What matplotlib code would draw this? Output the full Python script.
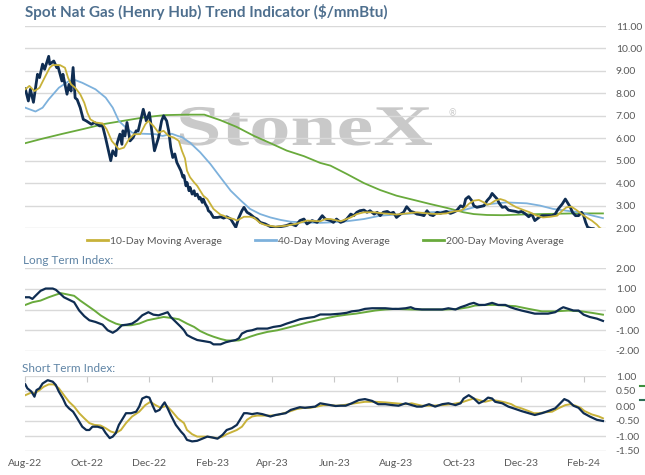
import pandas as pd
import matplotlib
matplotlib.use('Agg')
import matplotlib.pyplot as plt
import matplotlib.dates as mdates
from matplotlib.ticker import FixedLocator, FormatStrFormatter
from matplotlib.lines import Line2D
from matplotlib.textpath import TextPath
from matplotlib.patches import PathPatch
from matplotlib.transforms import Affine2D
from matplotlib.font_manager import FontProperties

plt.rcParams['font.family'] = ['Lato', 'DejaVu Sans']
plt.rcParams['axes.unicode_minus'] = False

start = pd.Timestamp('2022-08-01')

# ~~~~~ values (x = days since 2022-08-01) ~~~~~
spot_day = [0, 3, 5, 8, 12, 14, 17, 19, 23, 24, 28, 31, 32, 36, 37, 41, 43, 45, 47, 49,
            51, 54, 57, 60, 65, 68, 73, 76, 79, 84, 86, 89, 90, 93, 95, 96, 98, 100, 103, 106,
            109, 111, 116, 119, 122, 124, 127, 131, 134, 136, 139, 141, 143, 145, 147, 149, 153, 155, 156, 158,
            159, 161, 162, 164, 166, 167, 169, 171, 172, 174, 175, 177, 179, 180, 182, 185, 189, 192, 195, 198,
            202, 205, 207, 210, 213, 215, 218, 221, 225, 228, 231, 236, 241, 246, 251, 256, 261, 266, 270, 274,
            277, 282, 287, 292, 295, 300, 303, 306, 310, 313, 316, 320, 323, 326, 329, 333, 336, 339, 343, 346,
            349, 352, 356, 359, 362, 365, 369, 372, 375, 379, 382, 385, 389, 392, 395, 398, 401, 405, 408, 411,
            414, 418, 421, 424, 428, 431, 433, 436, 439, 441, 444, 447, 451, 454, 457, 459, 461, 464, 466, 469,
            472, 475, 478, 482, 485, 488, 492, 495, 498, 501, 505, 508, 513, 518, 521, 524, 528, 531, 533, 536,
            538, 541, 544, 547, 549, 551, 553, 556, 559, 563, 568]
spot = [8.2, 7.66, 8.18, 7.6, 8.85, 8.7, 9.3, 9.07, 9.65, 9.3, 9.44, 9.14, 9.22, 8.55, 8.85, 7.96, 8.4, 8.1, 9.15, 7.8,
        7.72, 7.36, 6.84, 6.77, 6.62, 6.7, 6.55, 6.55, 6.0, 5.0, 5.44, 5.22, 5.73, 6.18, 5.73, 6.33, 6.1, 6.7, 5.88, 6.03,
        6.33, 6.33, 7.29, 6.77, 7.14, 6.47, 5.44, 6.03, 6.77, 7.0, 6.77, 6.33, 5.59, 5.14, 5.3, 4.92, 4.55, 4.26, 4.34, 3.88,
        4.03, 3.66, 3.81, 3.51, 3.66, 3.44, 3.51, 3.29, 3.36, 3.14, 3.29, 3.07, 2.92, 2.77, 2.7, 2.47, 2.47, 2.5, 2.44, 2.5,
        2.4, 2.18, 2.03, 2.47, 2.77, 2.92, 2.7, 2.62, 2.47, 2.4, 2.25, 2.18, 2.06, 2.03, 2.06, 2.1, 2.18, 2.1, 2.33, 2.4,
        2.18, 2.33, 2.25, 2.55, 2.4, 2.33, 2.25, 2.4, 2.25, 2.3, 2.4, 2.62, 2.55, 2.7, 2.77, 2.8, 2.7, 2.77, 2.62, 2.7,
        2.55, 2.7, 2.74, 2.65, 2.7, 2.47, 2.62, 2.7, 2.95, 2.74, 2.7, 2.62, 2.59, 2.55, 2.77, 2.59, 2.55, 2.7, 2.65, 2.7,
        2.74, 2.65, 2.7, 2.77, 2.99, 2.92, 3.29, 3.4, 3.22, 2.99, 2.92, 2.95, 2.99, 3.22, 3.37, 3.54, 3.44, 3.29, 3.1, 2.92,
        2.95, 2.8, 2.77, 2.74, 2.7, 2.74, 2.62, 2.5, 2.62, 2.33, 2.47, 2.55, 2.55, 2.55, 2.62, 2.85, 3.07, 3.29, 3.14, 2.92,
        2.7, 2.55, 2.55, 2.7, 2.55, 2.25, 2.03, 1.98, 1.97, 1.7, 1.6]

ma10_day = [0, 4, 9, 14, 19, 24, 27, 34, 39, 42, 45, 49, 54, 58, 61, 64, 69, 76, 80, 85,
            92, 97, 102, 107, 113, 118, 121, 126, 131, 136, 141, 146, 151, 154, 157, 159, 162, 166, 169, 172,
            175, 179, 182, 185, 189, 192, 195, 198, 205, 208, 215, 221, 225, 231, 236, 246, 256, 266, 277, 290,
            295, 300, 310, 320, 326, 333, 343, 352, 365, 375, 385, 395, 405, 414, 421, 428, 431, 436, 441, 446,
            451, 454, 457, 462, 467, 472, 477, 483, 490, 496, 503, 509, 516, 523, 528, 532, 537, 542, 547, 552,
            557, 562, 565, 568]
ma10 = [8.18, 8.33, 8.1, 8.25, 8.7, 9.14, 9.26, 9.26, 9.14, 8.7, 8.4, 8.25, 7.96, 7.58, 7.14, 6.84, 6.7, 6.66, 6.4, 5.88,
        5.51, 5.58, 5.96, 6.18, 6.18, 6.62, 6.77, 6.55, 6.25, 6.33, 6.1, 6.03, 5.88, 5.44, 5.1, 4.55, 4.26, 4.03, 3.88, 3.66,
        3.44, 3.29, 3.07, 2.85, 2.7, 2.59, 2.55, 2.47, 2.4, 2.33, 2.5, 2.5, 2.45, 2.22, 2.13, 2.06, 2.1, 2.18, 2.33, 2.3,
        2.4, 2.4, 2.3, 2.47, 2.62, 2.7, 2.7, 2.65, 2.6, 2.65, 2.7, 2.65, 2.62, 2.65, 2.74, 2.77, 2.85, 3.07, 3.22, 3.25,
        3.14, 3.04, 3.07, 3.22, 3.29, 3.22, 3.07, 2.92, 2.8, 2.7, 2.55, 2.47, 2.5, 2.55, 2.77, 2.92, 2.95, 2.8, 2.62, 2.47,
        2.33, 2.15, 2.0, 1.92]

ma40_day = [0, 10, 17, 23, 33, 43, 49, 56, 69, 79, 86, 92, 99, 105, 115, 128, 135, 144, 150, 154,
            162, 172, 182, 192, 202, 212, 221, 231, 241, 251, 261, 274, 290, 300, 316, 333, 349, 365, 382, 398,
            415, 431, 441, 457, 473, 493, 506, 519, 532, 545, 558, 568]
ma40 = [7.36, 7.19, 7.36, 7.73, 8.25, 8.55, 8.59, 8.47, 8.18, 7.81, 7.36, 6.77, 6.47, 6.25, 6.2, 6.18, 6.1, 6.2, 6.1, 6.05,
        5.8, 5.37, 4.85, 4.25, 3.66, 3.22, 2.85, 2.62, 2.47, 2.36, 2.28, 2.25, 2.23, 2.25, 2.3, 2.4, 2.55, 2.6, 2.65, 2.7,
        2.74, 2.8, 2.92, 3.07, 3.14, 3.1, 3.0, 2.85, 2.77, 2.7, 2.55, 2.44]

ma200_day = [0, 16, 36, 57, 77, 97, 117, 137, 158, 176, 192, 208, 225, 241, 257, 274, 290, 300, 316, 333,
             349, 365, 382, 398, 415, 431, 441, 454, 470, 487, 506, 539, 568]
ma200 = [5.78, 5.97, 6.19, 6.41, 6.63, 6.78, 6.93, 7.03, 7.05, 7.05, 6.8, 6.5, 6.1, 5.78, 5.45, 5.2, 4.9, 4.78, 4.41, 4.0,
         3.69, 3.44, 3.25, 3.07, 2.89, 2.7, 2.62, 2.58, 2.57, 2.6, 2.62, 2.65, 2.65]

lt_day = [0, 4, 7, 10, 15, 20, 27, 30, 33, 38, 43, 48, 53, 58, 63, 69, 76, 81, 86, 90,
          95, 100, 105, 110, 115, 121, 126, 131, 136, 140, 143, 148, 153, 156, 159, 164, 169, 175, 182, 185,
          192, 197, 202, 207, 210, 213, 218, 223, 228, 238, 244, 251, 257, 264, 270, 277, 284, 290, 300, 310,
          316, 321, 328, 334, 341, 354, 361, 367, 374, 379, 383, 390, 400, 410, 416, 423, 428, 433, 437, 441,
          446, 452, 459, 465, 472, 477, 482, 488, 495, 501, 508, 514, 521, 526, 529, 534, 539, 544, 549, 555,
          562, 568]
lt_index = [0.59, 0.59, 0.51, 0.66, 0.9, 1.01, 1.01, 0.95, 0.82, 0.59, 0.47, 0.35, -0.05, -0.32, -0.52, -0.6, -0.73, -1.0, -1.12, -1.0,
            -0.76, -0.73, -0.68, -0.52, -0.28, -0.13, -0.25, -0.28, -0.2, -0.13, -0.36, -0.6, -0.84, -1.0, -1.23, -1.36, -1.47, -1.52, -1.58, -1.68,
            -1.68, -1.58, -1.52, -1.47, -1.39, -1.16, -1.04, -1.0, -0.92, -0.92, -0.84, -0.79, -0.68, -0.57, -0.47, -0.41, -0.36, -0.24, -0.24, -0.2,
            -0.16, -0.09, -0.05, 0.03, 0.06, 0.06, 0.03, 0.03, 0.06, 0.11, 0.03, 0.0, 0.0, 0.0, 0.06, 0.0, 0.11, 0.19, 0.27, 0.32,
            0.22, 0.22, 0.32, 0.22, 0.22, 0.11, 0.03, -0.05, -0.13, -0.2, -0.2, -0.2, -0.13, 0.03, 0.11, 0.03, -0.05, -0.05, -0.25, -0.36,
            -0.44, -0.55]

lt_avg_day = [0, 7, 15, 23, 30, 35, 40, 48, 54, 61, 68, 74, 82, 89, 95, 104, 112, 120, 128, 136,
              144, 151, 159, 166, 172, 179, 185, 192, 198, 205, 210, 215, 221, 228, 238, 248, 257, 267, 277, 287,
              297, 306, 316, 325, 334, 344, 354, 364, 380, 397, 413, 426, 436, 442, 452, 462, 472, 482, 495, 508,
              521, 534, 547, 557, 568]
lt_avg = [0.22, 0.35, 0.43, 0.59, 0.71, 0.79, 0.74, 0.66, 0.43, 0.19, -0.05, -0.28, -0.52, -0.68, -0.76, -0.76, -0.68, -0.52, -0.44, -0.36,
          -0.41, -0.47, -0.68, -0.84, -1.04, -1.2, -1.31, -1.42, -1.49, -1.5, -1.49, -1.42, -1.31, -1.2, -1.08, -1.0, -0.89, -0.76, -0.63, -0.52,
          -0.41, -0.32, -0.25, -0.2, -0.13, -0.05, 0.0, 0.03, 0.0, 0.0, 0.0, 0.03, 0.11, 0.19, 0.22, 0.22, 0.19, 0.16, 0.03, -0.09,
          -0.09, -0.05, -0.09, -0.16, -0.25]

st_day = [0, 2, 6, 9, 11, 14, 17, 22, 27, 30, 33, 37, 40, 43, 47, 50, 53, 56, 60, 63,
          66, 71, 76, 79, 83, 86, 89, 92, 96, 99, 104, 109, 112, 115, 119, 122, 125, 128, 132, 135,
          137, 140, 143, 148, 153, 156, 159, 164, 169, 174, 179, 184, 189, 194, 198, 203, 208, 212, 215, 218,
          223, 228, 233, 238, 241, 246, 251, 256, 261, 266, 270, 275, 280, 285, 290, 295, 300, 305, 310, 315,
          321, 328, 334, 341, 347, 354, 361, 367, 374, 380, 385, 390, 397, 403, 410, 416, 423, 428, 431, 436,
          441, 446, 451, 455, 459, 462, 469, 475, 482, 488, 495, 501, 508, 514, 521, 526, 530, 534, 539, 544,
          549, 555, 562, 568]
st_index = [0.72, 0.59, 0.48, 0.31, 0.53, 0.59, 0.75, 0.86, 0.81, 0.7, 0.48, 0.25, 0.03, -0.08, -0.19, -0.35, -0.52, -0.69, -0.8, -0.8,
            -0.69, -0.69, -0.74, -0.9, -1.07, -1.02, -0.9, -0.63, -0.41, -0.24, -0.24, -0.19, -0.02, 0.25, 0.31, 0.28, 0.03, -0.19, -0.13, 0.03,
            0.12, -0.08, -0.3, -0.63, -0.85, -0.96, -1.13, -1.18, -1.16, -1.09, -1.02, -1.05, -1.09, -0.96, -0.8, -0.74, -0.63, -0.41, -0.24, -0.24,
            -0.27, -0.24, -0.27, -0.32, -0.35, -0.3, -0.27, -0.24, -0.13, -0.08, -0.04, -0.06, -0.04, -0.02, 0.09, 0.06, 0.03, 0.0, 0.01, 0.01,
            0.09, 0.2, 0.23, 0.17, 0.06, 0.06, 0.03, 0.01, 0.09, 0.03, -0.02, -0.02, 0.06, -0.02, 0.06, 0.09, 0.03, 0.09, 0.25, 0.36,
            0.25, 0.09, 0.17, 0.28, 0.25, 0.14, 0.09, -0.02, -0.1, -0.17, -0.24, -0.3, -0.24, -0.17, -0.08, 0.09, 0.23, 0.17, 0.01, -0.06,
            -0.24, -0.35, -0.46, -0.5]

st_avg_day = [0, 6, 9, 14, 18, 23, 28, 33, 38, 43, 48, 53, 58, 63, 68, 74, 79, 84, 89, 94,
              99, 105, 112, 118, 123, 128, 133, 139, 144, 150, 156, 159, 164, 169, 179, 184, 189, 194, 198, 203,
              208, 213, 218, 223, 228, 241, 248, 254, 261, 267, 274, 280, 287, 293, 300, 306, 313, 324, 334, 344,
              354, 364, 374, 380, 390, 400, 410, 419, 429, 436, 441, 446, 452, 459, 465, 472, 478, 482, 488, 495,
              500, 505, 511, 518, 524, 531, 536, 541, 546, 550, 557, 564, 568]
st_avg = [0.36, 0.45, 0.42, 0.53, 0.64, 0.72, 0.72, 0.59, 0.36, 0.14, -0.02, -0.24, -0.41, -0.57, -0.63, -0.65, -0.74, -0.85, -0.9, -0.8,
          -0.57, -0.35, -0.19, 0.03, 0.14, 0.03, -0.06, 0.01, -0.17, -0.41, -0.57, -0.8, -0.94, -1.02, -1.02, -1.05, -1.07, -1.02, -0.94, -0.87,
          -0.8, -0.69, -0.46, -0.35, -0.32, -0.32, -0.3, -0.24, -0.17, -0.1, -0.06, -0.06, -0.02, 0.03, 0.03, 0.01, 0.03, 0.09, 0.14, 0.14,
          0.12, 0.09, 0.06, 0.09, 0.01, 0.01, 0.03, 0.06, 0.12, 0.2, 0.25, 0.2, 0.14, 0.2, 0.17, 0.12, 0.06, -0.02, -0.08, -0.17,
          -0.24, -0.24, -0.21, -0.19, -0.08, 0.03, 0.06, 0.01, -0.06, -0.17, -0.28, -0.35, -0.41]

legend_labels = ['10-Day Moving Average', '40-Day Moving Average', '200-Day Moving Average']
title = 'Spot Nat Gas (Henry Hub) Trend Indicator ($/mmBtu)'

navy = '#0f2d52'
gold = '#c8b23a'
blue = '#7db1dc'
green = '#69aa3c'
grid_c = '#d9d9d9'
text_c = '#595959'
mark_c = '#c9c9c9'


def dates(days):
    return start + pd.to_timedelta(days, unit='D')


fig = plt.figure(figsize=(6.45, 4.75), dpi=100)
L, W = 25 / 645, 581 / 645
ax1 = fig.add_axes([L, 1 - 228 / 475, W, 202 / 475])
ax2 = fig.add_axes([L, 1 - 351 / 475, W, 83 / 475])
ax3 = fig.add_axes([L, 1 - 451 / 475, W, 75 / 475])

xmin, xmax = start - pd.Timedelta(days=0.3), start + pd.Timedelta(days=571)
for ax, lo, hi, step in [(ax1, 2, 11, 1), (ax2, -2, 2, 1), (ax3, -1.5, 1, 0.5)]:
    ax.set_xlim(xmin, xmax)
    ax.set_ylim(lo, hi)
    ticks = [lo + i * step for i in range(int(round((hi - lo) / step)) + 1)]
    ax.yaxis.set_major_locator(FixedLocator(ticks))
    ax.yaxis.set_major_formatter(FormatStrFormatter('%.2f'))
    ax.yaxis.tick_right()
    ax.tick_params(axis='y', length=0, pad=7, labelsize=7.5, labelcolor=text_c)
    ax.grid(axis='y', color=grid_c, lw=1.0)
    ax.set_axisbelow(True)
    for s in ax.spines.values():
        s.set_visible(False)
    ax.xaxis.set_major_locator(mdates.MonthLocator(bymonth=[2, 4, 6, 8, 10, 12]))

for ax in (ax1, ax2):
    ax.tick_params(axis='x', which='both', bottom=False, top=False, labelbottom=False)

ax3.xaxis.set_major_formatter(mdates.DateFormatter('%b-%y'))
ax3.tick_params(axis='x', direction='in', length=4, width=0.8, color='#c8c8c8',
                top=True, bottom=False, labeltop=False, labelbottom=True,
                pad=6, labelsize=7.5, labelcolor=text_c)

# watermark: wide serif "StoneX", stretched sideways (pixel units)
fp = FontProperties(family='Liberation Serif', weight='bold')
tp = TextPath((0, 0), 'StoneX', size=57.5, prop=fp)
ext = tp.get_extents()
sx = 252 / ext.width
tr = Affine2D().translate(-ext.x0, 0).scale(sx, 1).translate(180, 475 - 145)
wm = PathPatch(tp, transform=tr, fc=mark_c, ec='none', zorder=0.4)
ax1.add_artist(wm)
ax1.text(452 / 645, 1 - 114 / 475, '\u00ae', transform=fig.transFigure, fontsize=6.5,
         color=mark_c, ha='center', va='center', zorder=0.4)

# top panel
ax1.plot(dates(ma200_day), ma200, color=green, lw=1.3, zorder=2)
ax1.plot(dates(ma40_day), ma40, color=blue, lw=1.3, zorder=3)
ax1.plot(dates(spot_day), spot, color=navy, lw=2.0, zorder=4, solid_joinstyle='round')
ax1.plot(dates(ma10_day), ma10, color=gold, lw=1.3, zorder=5)

handles = [Line2D([], [], color=c, lw=2.0) for c in (gold, blue, green)]
fig.legend(handles, legend_labels, loc='center', bbox_to_anchor=(0.505, 1 - 241 / 475), ncol=3,
           frameon=False, fontsize=7.5, labelcolor=text_c, handlelength=2.0, handletextpad=0.2,
           columnspacing=3.2)

# long term
ax2.plot(dates(lt_avg_day), lt_avg, color=green, lw=1.4)
ax2.plot(dates(lt_day), lt_index, color=navy, lw=1.6)

# short term
ax3.plot(dates(st_avg_day), st_avg, color=gold, lw=1.4)
ax3.plot(dates(st_day), st_index, color=navy, lw=1.6)

fig.text(L, 1 - 12 / 475, title, fontsize=11, fontweight='bold', color='#4e6f8e', va='center')
fig.text(23 / 645, 1 - 261 / 475, 'Long Term Index:', fontsize=8.5, color='#5f84a5', va='center')
fig.text(22 / 645, 1 - 369 / 475, 'Short Term Index:', fontsize=8.5, color='#5f84a5', va='center')

# stray legend marks at the right edge
fig.add_artist(Line2D([640 / 645, 645 / 645], [1 - 386 / 475] * 2, color='#3f8f3f', lw=1.5))
fig.add_artist(Line2D([640 / 645, 645 / 645], [1 - 400 / 475] * 2, color='#2d6e55', lw=1.5))

fig.savefig('out.png', dpi=100)
